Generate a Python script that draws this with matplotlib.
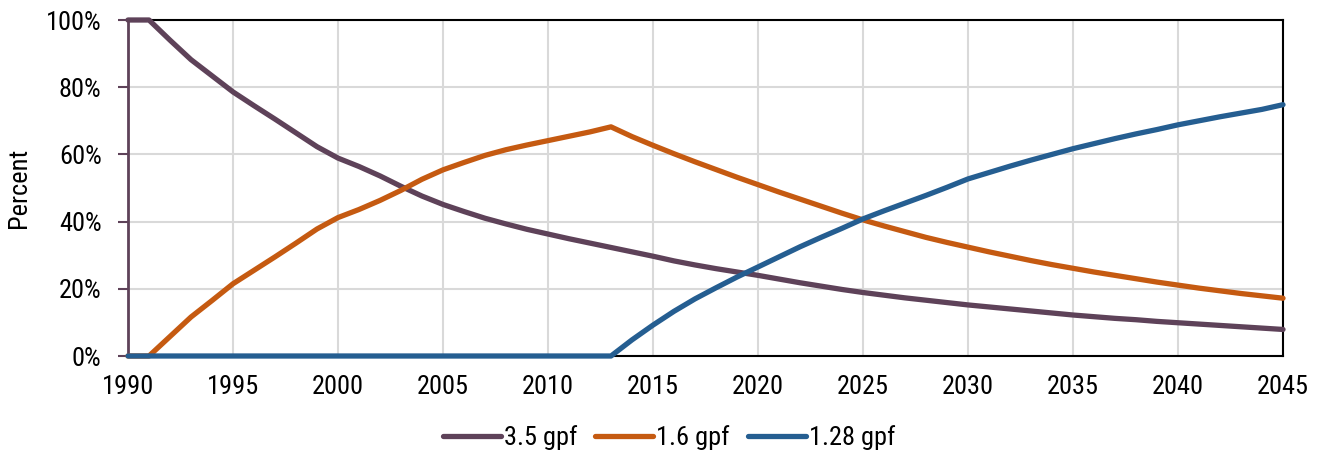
import matplotlib
matplotlib.use("Agg")
import matplotlib.pyplot as plt
from matplotlib import font_manager as fm
from matplotlib.ticker import FuncFormatter, MultipleLocator

available = {f.name for f in fm.fontManager.ttflist}
chosen = None
for cand in ['Liberation Sans Narrow', 'Arial Narrow', 'Roboto Condensed', 'Archivo Narrow']:
    if cand in available:
        chosen = cand
        break
plt.rcParams['font.family'] = ([chosen] if chosen else []) + ['Liberation Sans', 'DejaVu Sans']

years = list(range(1990, 2046))

gpf_35 = [100, 100, 94, 88.2, 83.4, 78.6, 74.5, 70.5, 66.4, 62.3,
          58.9, 56.4, 53.6, 50.5, 47.6, 45.1, 43.0, 41.0, 39.3, 37.7,
          36.3, 34.9, 33.6, 32.3, 31.0, 29.7, 28.3, 27.1, 26.0, 25.0,
          24.0, 22.9, 21.8, 20.8, 19.8, 18.9, 18.1, 17.3, 16.6, 15.9,
          15.2, 14.6, 14.0, 13.4, 12.8, 12.2, 11.7, 11.2, 10.8, 10.3,
          9.9, 9.5, 9.1, 8.7, 8.3, 7.9]

gpf_16 = [0, 0, 5.8, 11.6, 16.5, 21.5, 25.5, 29.5, 33.6, 37.8,
          41.2, 43.6, 46.3, 49.3, 52.6, 55.4, 57.6, 59.7, 61.4, 62.8,
          64.1, 65.4, 66.7, 68.2, 65.3, 62.7, 60.2, 57.8, 55.5, 53.2,
          51.0, 48.8, 46.7, 44.6, 42.5, 40.5, 38.7, 37.0, 35.3, 33.8,
          32.4, 31.0, 29.7, 28.4, 27.2, 26.1, 25.0, 24.0, 23.0, 22.0,
          21.1, 20.2, 19.4, 18.6, 17.9, 17.2]

gpf_128 = [0, 0, 0, 0, 0, 0, 0, 0, 0, 0,
           0, 0, 0, 0, 0, 0, 0, 0, 0, 0,
           0, 0, 0, 0, 4.8, 9.2, 13.3, 17.0, 20.3, 23.5,
           26.5, 29.5, 32.5, 35.3, 38.0, 40.8, 43.2, 45.5, 47.8, 50.2,
           52.7, 54.6, 56.5, 58.3, 60.0, 61.7, 63.2, 64.7, 66.1, 67.4,
           68.8, 70.0, 71.2, 72.3, 73.4, 74.8]

labels = ['3.5 gpf', '1.6 gpf', '1.28 gpf']
colors = ['#5E4259', '#C55A11', '#255E91']

fs = 19 if chosen else 17

fig = plt.figure(figsize=(13.22, 4.59), dpi=100)
ax = fig.add_axes([128/1322, 1-356/459, (1283-128)/1322, (356-20)/459])

for vals, lab, col in zip([gpf_35, gpf_16, gpf_128], labels, colors):
    ax.plot(years, vals, color=col, lw=3.8, label=lab, solid_capstyle='round',
            solid_joinstyle='round', clip_on=False, zorder=3)

ax.set_xlim(1990, 2045)
ax.set_ylim(0, 100)
ax.xaxis.set_major_locator(MultipleLocator(5))
ax.yaxis.set_major_locator(MultipleLocator(20))
ax.yaxis.set_major_formatter(FuncFormatter(lambda v, p: f"{v:.0f}%"))
ax.grid(True, color='#D9D9D9', lw=1.5, zorder=0)
ax.set_axisbelow(True)

for s in ['top', 'right', 'bottom']:
    ax.spines[s].set_color('black')
    ax.spines[s].set_linewidth(1.5)
ax.spines['left'].set_color('#5E4259')
ax.spines['left'].set_linewidth(2)

ax.tick_params(axis='x', length=0, pad=14, labelsize=fs, colors='black')
ax.tick_params(axis='y', length=7, width=1.5, color='#5E4259', labelcolor='black',
               labelsize=fs, pad=12)

ax.set_ylabel('Percent', fontsize=fs)
ax.yaxis.set_label_coords(-0.084, 0.5)

leg = fig.legend(*ax.get_legend_handles_labels(), loc='center',
                 bbox_to_anchor=(669/1322, 1-438/459), ncol=3, frameon=False,
                 fontsize=fs, handlelength=2.2, handletextpad=0.1, columnspacing=0.7)

fig.savefig('out.png', dpi=100)
